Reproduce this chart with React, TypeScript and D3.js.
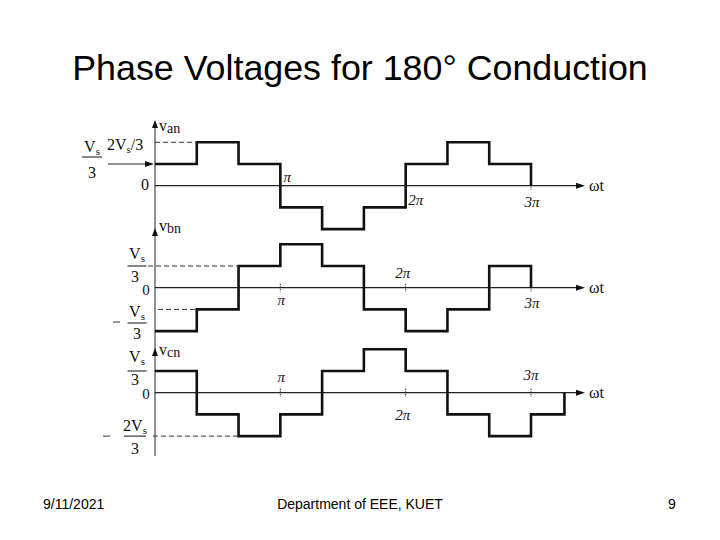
import React from "react";
import * as d3 from "d3";

const title = "Phase Voltages for 180° Conduction";
const footerDate = "9/11/2021";
const footerDept = "Department of EEE, KUET";
const footerPage = "9";

// switching instants, in units of pi/3
const edgesAB = [0, 1, 2, 3, 4, 5, 6, 7, 8, 9];
const edgesC = [0, 1, 2, 3, 4, 5, 6, 7, 8, 9, 9.8];

// phase voltage levels, in units of Vs/3
const van = [1, 2, 1, -1, -2, -1, 1, 2, 1];
const vbn = [-2, -1, 1, 2, 1, -1, -2, -1, 1];
const vcn = [1, -1, -2, -1, 1, 2, 1, -1, -2, -1];

const phaseNames = ["an", "bn", "cn"];
const piTicks = [3, 6, 9];
const piLabels = ["π", "2π", "3π"];

// layout
const W = 720, H = 540;
const axisX0 = 155;
const panelZero = [185.7, 287.7, 392.7];
const levelStep = 21.7;
const tickDx = [[7, 10, 1], [1, -3, 1], [1, -3, 0]];
const tickDy = [[-4, 19, 21], [17, -10, 20], [-11, 27, -13]];
const nameY = [131, 231, 355];
const arrowTipY = [120, 228, 348];

const serif = "'Liberation Serif', 'DejaVu Serif', serif";
const sans = "'Liberation Sans', Arial, sans-serif";

const x = d3.scaleLinear().domain([0, 9]).range([axisX0, 531]);
const yFor = (zero: number) =>
  d3.scaleLinear().domain([-2, 2]).range([zero + 2 * levelStep, zero - 2 * levelStep]);

function wavePath(levels: number[], edges: number[], zero: number) {
  const y = yFor(zero);
  const pts: [number, number][] = levels.map((v, i) => [edges[i], v]);
  pts.push([edges[levels.length], levels[levels.length - 1]]);
  pts.push([edges[levels.length], 0]);
  const line = d3.line<[number, number]>()
    .x(d => x(d[0]))
    .y(d => y(d[1]))
    .curve(d3.curveStepAfter);
  return line(pts) || "";
}

function ArrowUp({ cx, tip }: { cx: number; tip: number }) {
  return <path d={`M${cx},${tip} L${cx - 3},${tip + 8} L${cx + 3},${tip + 8} Z`} fill="#111" />;
}
function ArrowRight({ tip, cy }: { tip: number; cy: number }) {
  return <path d={`M${tip},${cy} L${tip - 9},${cy - 3} L${tip - 9},${cy + 3} Z`} fill="#111" />;
}

function Vs({ x: tx, y: ty, prefix = "" }: { x: number; y: number; prefix?: string }) {
  return (
    <text x={tx} y={ty} fontFamily={serif} fontSize={16} textAnchor="middle" fill="#111">
      {prefix}V<tspan fontSize={11} dy={3}>s</tspan>
    </text>
  );
}

function Frac({ cx, numY, barY, denY, barW, prefix = "", denX }:
  { cx: number; numY: number; barY: number; denY: number; barW: number; prefix?: string; denX?: number }) {
  return (
    <g>
      <Vs x={cx} y={numY} prefix={prefix} />
      <line x1={cx - barW / 2} x2={cx + barW / 2} y1={barY} y2={barY} stroke="#111" strokeWidth={1} />
      <text x={denX ?? cx} y={denY} fontFamily={serif} fontSize={16} textAnchor="middle" fill="#111">3</text>
    </g>
  );
}

export default function App() {
  const series = [van, vbn, vcn];
  const edges = [edgesAB, edgesAB, edgesC];
  const yTop = yFor(panelZero[0]);
  const yMid = yFor(panelZero[1]);
  const yBot = yFor(panelZero[2]);

  return (
    <svg width={W} height={H} style={{ position: "absolute", left: 0, top: 0, background: "#fff" }}>
      <rect width={W} height={H} fill="#fff" />
      <text x={360} y={80} textAnchor="middle" fontFamily={sans} fontSize={35.8} fill="#000">{title}</text>

      {/* vertical axis shared by the three plots */}
      <line x1={axisX0} x2={axisX0} y1={arrowTipY[0] + 2} y2={456} stroke="#222" strokeWidth={1} />
      {arrowTipY.map((t, i) => <ArrowUp key={i} cx={axisX0} tip={t} />)}

      {panelZero.map((zero, p) => (
        <g key={p}>
          <line x1={axisX0} x2={580} y1={zero} y2={zero} stroke="#222" strokeWidth={1.2} />
          <ArrowRight tip={585} cy={zero} />
          <text x={589} y={zero + 5} fontFamily={serif} fontSize={16} fill="#111">ωt</text>
          <text x={159} y={nameY[p]} fontFamily={serif} fontSize={16} fill="#111">
            v<tspan fontSize={14} dy={2}>{phaseNames[p]}</tspan>
          </text>
          {piTicks.map((k, i) => (
            <g key={k}>
              <line x1={x(k)} x2={x(k)} y1={zero - 4} y2={zero + 4} stroke="#333" strokeWidth={1} strokeDasharray="1.5,1" />
              <text x={x(k) + tickDx[p][i]} y={zero + tickDy[p][i]} textAnchor="middle"
                fontFamily={serif} fontSize={15} fontStyle="italic" fill="#111">{piLabels[i]}</text>
            </g>
          ))}
          <path d={wavePath(series[p], edges[p], zero)} fill="none" stroke="#111" strokeWidth={2.6} strokeLinejoin="miter" />
        </g>
      ))}

      {/* v_an level labels */}
      <Frac cx={92} numY={152} barY={157} denY={178} barW={20} />
      <line x1={108} x2={148} y1={yTop(1)} y2={yTop(1)} stroke="#222" strokeWidth={1} />
      <ArrowRight tip={154} cy={yTop(1)} />
      <text x={107} y={150} fontFamily={serif} fontSize={16} fill="#111">
        2V<tspan fontSize={11} dy={3}>s</tspan><tspan dy={-3}>/3</tspan>
      </text>
      <line x1={axisX0} x2={x(1)} y1={yTop(2)} y2={yTop(2)} stroke="#333" strokeWidth={1} strokeDasharray="5,3" />
      <text x={141} y={190} fontFamily={serif} fontSize={16} fill="#111">0</text>

      {/* v_bn level labels */}
      <Frac cx={137} numY={259} barY={yMid(1)} denY={282} barW={19} denX={135} />
      <line x1={148} x2={x(2)} y1={yMid(1)} y2={yMid(1)} stroke="#333" strokeWidth={1} strokeDasharray="5,3" />
      <text x={146} y={295} textAnchor="middle" fontFamily={serif} fontSize={15} fill="#111">0</text>
      <line x1={113} x2={120} y1={322} y2={322} stroke="#333" strokeWidth={1} />
      <Frac cx={137} numY={317} barY={323} denY={339} barW={19} />
      <line x1={158} x2={x(1)} y1={yMid(-1)} y2={yMid(-1)} stroke="#333" strokeWidth={1} strokeDasharray="5,3" />

      {/* v_cn level labels */}
      <Frac cx={137} numY={362} barY={yBot(1)} denY={385} barW={19} denX={135} />
      <text x={146} y={399} textAnchor="middle" fontFamily={serif} fontSize={15} fill="#111">0</text>
      <line x1={103} x2={110} y1={yBot(-2)} y2={yBot(-2)} stroke="#333" strokeWidth={1} />
      <Frac cx={135} numY={431} barY={yBot(-2)} denY={454} barW={22} prefix="2" />
      <line x1={153} x2={x(2)} y1={yBot(-2)} y2={yBot(-2)} stroke="#333" strokeWidth={1} strokeDasharray="5,3" />

      {/* footer */}
      <text x={43} y={509} fontFamily={sans} fontSize={14} fill="#000">{footerDate}</text>
      <text x={360} y={509} textAnchor="middle" fontFamily={sans} fontSize={14} fill="#000">{footerDept}</text>
      <text x={672} y={509} textAnchor="middle" fontFamily={sans} fontSize={14} fill="#000">{footerPage}</text>
    </svg>
  );
}
